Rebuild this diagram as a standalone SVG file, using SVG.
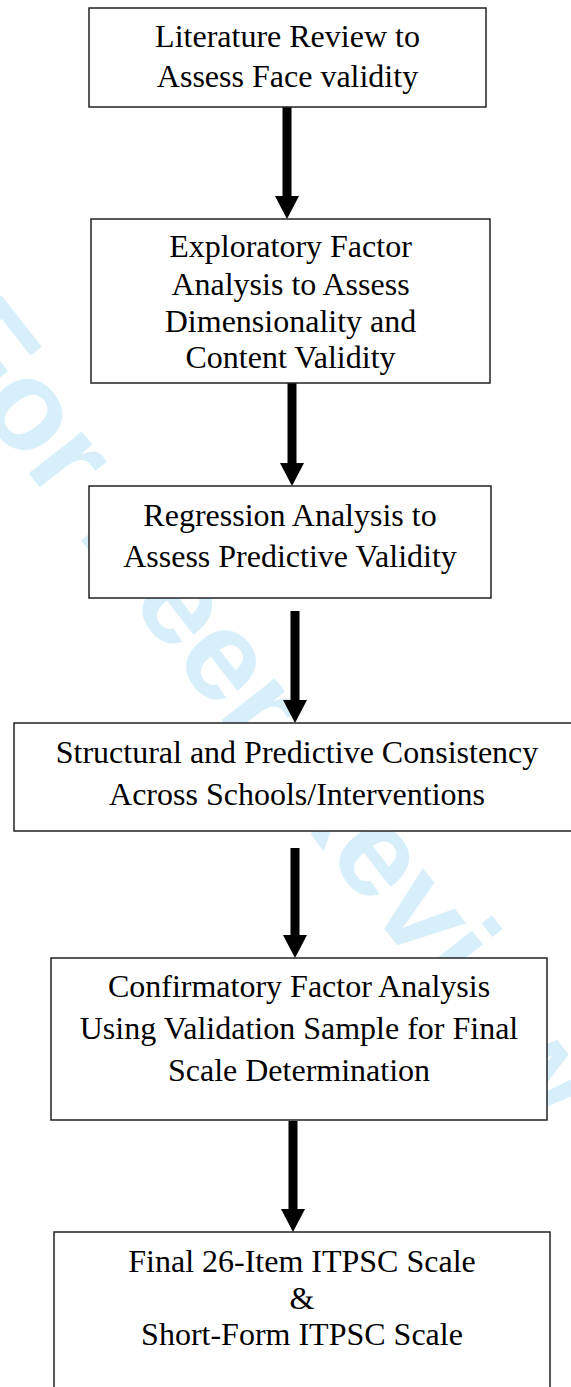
<svg xmlns="http://www.w3.org/2000/svg" width="571" height="1387" viewBox="0 0 571 1387">
<style>
.box{fill:#fff;stroke:#222;stroke-width:1.5}
.t{font-family:"Liberation Serif","Times New Roman",serif;font-size:32px;fill:#000;text-anchor:middle}
.wm{font-family:"Liberation Sans",Arial,sans-serif;font-weight:bold;font-size:128px;fill:#d6effb}
.shaft{stroke:#000;stroke-width:9;fill:none}
.head{fill:#000}
</style>
<rect width="571" height="1387" fill="#fff"/>
<text class="wm" x="-73" y="343" transform="rotate(52 -73 343)">For Peer Review</text>
<g id="connectors">
<line class="shaft" x1="287" y1="107" x2="287" y2="198"/><polygon class="head" points="275,196 299,196 287,219"/>
<line class="shaft" x1="292" y1="383" x2="292" y2="465"/><polygon class="head" points="280,463 304,463 292,486"/>
<line class="shaft" x1="295" y1="611" x2="295" y2="702"/><polygon class="head" points="283,700 307,700 295,723"/>
<line class="shaft" x1="295" y1="848" x2="295" y2="937"/><polygon class="head" points="283,935 307,935 295,958"/>
<line class="shaft" x1="293" y1="1121" x2="293" y2="1211"/><polygon class="head" points="281,1209 305,1209 293,1232"/>
</g>
<g id="n1"><rect class="box" x="89" y="8" width="397" height="99"/>
<text class="t" x="287.5" y="47">Literature Review to</text>
<text class="t" x="287.5" y="87">Assess Face validity</text></g>
<g id="n2"><rect class="box" x="91" y="219" width="399" height="164"/>
<text class="t" x="290.5" y="257">Exploratory Factor</text>
<text class="t" x="290.5" y="295">Analysis to Assess</text>
<text class="t" x="290.5" y="332">Dimensionality and</text>
<text class="t" x="290.5" y="368">Content Validity</text></g>
<g id="n3"><rect class="box" x="89" y="486" width="402" height="112"/>
<text class="t" x="290" y="526">Regression Analysis to</text>
<text class="t" x="290" y="567">Assess Predictive Validity</text></g>
<g id="n4"><rect class="box" x="14" y="723" width="560" height="108"/>
<text class="t" x="297" y="763">Structural and Predictive Consistency</text>
<text class="t" x="297" y="805">Across Schools/Interventions</text></g>
<g id="n5"><rect class="box" x="51" y="958" width="496" height="162"/>
<text class="t" x="299" y="997">Confirmatory Factor Analysis</text>
<text class="t" x="299" y="1039">Using Validation Sample for Final</text>
<text class="t" x="299" y="1081">Scale Determination</text></g>
<g id="n6"><rect class="box" x="54" y="1232" width="496" height="170"/>
<text class="t" x="302" y="1272">Final 26-Item ITPSC Scale</text>
<text class="t" x="302" y="1309">&amp;</text>
<text class="t" x="302" y="1345">Short-Form ITPSC Scale</text></g>
</svg>
